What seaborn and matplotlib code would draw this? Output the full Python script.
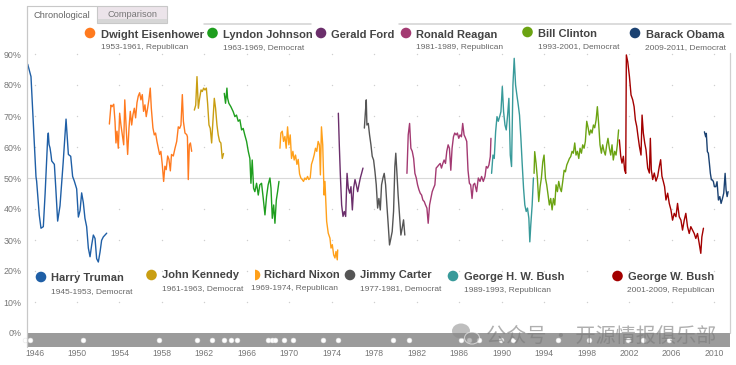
import matplotlib
matplotlib.use("Agg")
import matplotlib.pyplot as plt
from matplotlib.patches import Circle, Rectangle, Ellipse, Wedge
import seaborn as sns
import pandas as pd
import numpy as np

W, H = 736, 365

# approval readings, per president (year, %)
truman_years = [1945.36, 1945.67, 1946.14, 1946.2, 1946.45, 1946.61, 1946.83, 1947.0, 1947.24, 1947.3,
                1947.37, 1947.46, 1947.55, 1947.62, 1947.87, 1948.0, 1948.18, 1948.4, 1948.7, 1948.97,
                1949.19, 1949.41, 1949.59, 1949.75, 1949.97, 1950.13, 1950.29, 1950.44, 1950.6, 1950.75,
                1950.91, 1951.07, 1951.23, 1951.38, 1951.54, 1951.7, 1951.85, 1952.01, 1952.17, 1952.32,
                1952.48, 1952.64, 1952.8]
truman_approval = [86.7, 82.7, 50.4, 49.0, 38.0, 33.8, 34.3, 45.0, 62.9, 64.5,
                   60.8, 59.7, 57.6, 55.5, 54.4, 47.0, 36.1, 41.0, 55.0, 69.0,
                   57.6, 57.0, 50.5, 49.0, 46.5, 37.4, 39.5, 45.2, 42.0, 37.0,
                   34.3, 27.4, 24.6, 28.3, 31.6, 30.5, 24.0, 22.9, 26.1, 29.9,
                   31.0, 31.6, 32.2]

eisenhower_years = [1953.05, 1953.2, 1953.3, 1953.46, 1953.58, 1953.67, 1953.77, 1953.89, 1954.02, 1954.14,
                    1954.27, 1954.4, 1954.5, 1954.65, 1954.77, 1954.9, 1955.02, 1955.15, 1955.27, 1955.4,
                    1955.52, 1955.65, 1955.77, 1955.9, 1956.02, 1956.15, 1956.27, 1956.4, 1956.52, 1956.65,
                    1956.77, 1956.9, 1957.0, 1957.15, 1957.28, 1957.4, 1957.53, 1957.66, 1957.78, 1957.9,
                    1958.03, 1958.16, 1958.28, 1958.4, 1958.54, 1958.66, 1958.79, 1958.9, 1959.07, 1959.23,
                    1959.39, 1959.54, 1959.67, 1959.79, 1959.92, 1960.02, 1960.17, 1960.33, 1960.4, 1960.48,
                    1960.58, 1960.68, 1960.8]
eisenhower_approval = [67.4, 73.5, 73.0, 73.8, 68.3, 61.3, 65.1, 59.6, 70.9, 67.1,
                       63.9, 60.7, 75.2, 65.1, 57.6, 66.2, 71.5, 67.1, 70.4, 72.5,
                       69.4, 74.3, 76.4, 77.5, 75.2, 76.9, 71.5, 73.6, 69.8, 72.5,
                       75.2, 79.0, 72.5, 66.2, 63.9, 64.5, 61.8, 59.6, 57.6, 58.6,
                       54.4, 48.9, 53.8, 52.7, 57.1, 56.0, 52.3, 57.6, 57.1, 59.6,
                       61.8, 66.5, 66.0, 67.1, 76.9, 68.3, 64.5, 64.0, 63.3, 49.5,
                       60.7, 61.3, 58.6]

kennedy_years = [1961.05, 1961.18, 1961.3, 1961.43, 1961.55, 1961.68, 1961.8, 1961.93, 1962.05, 1962.18,
                 1962.3, 1962.43, 1962.55, 1962.68, 1962.8, 1962.93, 1963.05, 1963.18, 1963.3, 1963.43,
                 1963.55, 1963.68, 1963.8]
kennedy_approval = [71.9, 73.5, 82.7, 72.5, 75.7, 78.4, 77.9, 79.0, 78.4, 79.0,
                    74.1, 67.1, 66.0, 61.3, 68.3, 75.7, 72.5, 67.1, 63.9, 61.8,
                    61.3, 56.3, 57.9]

johnson_years = [1963.87, 1963.99, 1964.12, 1964.18, 1964.3, 1964.49, 1964.71, 1964.87, 1965.02, 1965.18,
                 1965.34, 1965.5, 1965.65, 1965.8, 1965.97, 1966.13, 1966.28, 1966.38, 1966.5, 1966.63,
                 1966.75, 1966.91, 1967.07, 1967.22, 1967.38, 1967.54, 1967.7, 1967.85, 1968.0, 1968.17,
                 1968.27, 1968.39, 1968.52, 1968.64, 1968.77, 1968.89, 1969.02]
johnson_approval = [77.3, 74.1, 79.0, 75.8, 74.1, 73.0, 71.4, 69.8, 70.3, 68.3,
                    68.8, 65.5, 66.0, 63.9, 61.8, 58.6, 56.3, 48.3, 55.8, 46.7,
                    45.6, 48.3, 44.5, 47.8, 48.3, 43.4, 38.1, 44.0, 47.8, 50.0,
                    46.7, 37.0, 41.3, 35.4, 42.9, 45.6, 48.9]

nixon_years = [1969.11, 1969.2, 1969.33, 1969.45, 1969.58, 1969.7, 1969.83, 1969.95, 1970.08, 1970.2,
               1970.33, 1970.45, 1970.58, 1970.71, 1970.83, 1970.96, 1971.08, 1971.21, 1971.33, 1971.46,
               1971.58, 1971.71, 1971.83, 1971.96, 1972.08, 1972.21, 1972.33, 1972.46, 1972.58, 1972.71,
               1972.83, 1972.92, 1973.02, 1973.14, 1973.27, 1973.35, 1973.51, 1973.66, 1973.82, 1973.92,
               1974.04, 1974.17, 1974.29, 1974.39, 1974.51, 1974.55]
nixon_approval = [59.6, 64.5, 65.1, 61.8, 63.4, 59.6, 66.5, 60.7, 63.9, 56.3,
                  58.6, 55.8, 57.4, 54.4, 56.0, 51.3, 50.0, 49.5, 48.9, 50.0,
                  49.5, 50.5, 49.5, 50.0, 54.4, 55.8, 57.4, 59.6, 58.6, 61.8,
                  60.7, 51.0, 66.5, 60.7, 44.5, 48.9, 36.0, 32.2, 30.6, 27.4,
                  28.5, 25.2, 24.2, 26.3, 23.6, 26.8]

ford_years = [1974.61, 1974.7, 1974.8, 1974.92, 1975.05, 1975.17, 1975.3, 1975.43, 1975.55, 1975.68,
              1975.8, 1975.93, 1976.05, 1976.18, 1976.3, 1976.43, 1976.55, 1976.68, 1976.8, 1976.93]
ford_approval = [70.9, 60.7, 51.0, 41.3, 37.6, 39.2, 37.6, 51.5, 46.7, 45.1,
                 47.2, 39.7, 46.7, 49.5, 47.8, 45.6, 47.8, 50.0, 51.5, 53.2]

carter_years = [1977.06, 1977.15, 1977.24, 1977.3, 1977.43, 1977.55, 1977.68, 1977.8, 1977.93, 1978.06,
                1978.18, 1978.31, 1978.43, 1978.56, 1978.68, 1978.81, 1978.93, 1979.06, 1979.18, 1979.31,
                1979.43, 1979.56, 1979.68, 1979.81, 1979.93, 1980.02, 1980.12, 1980.24, 1980.37, 1980.5,
                1980.62, 1980.75, 1980.87]
carter_approval = [66.1, 70.9, 75.2, 67.1, 67.6, 63.9, 60.7, 57.0, 55.8, 52.0,
                   47.8, 40.3, 43.4, 39.7, 47.8, 50.0, 51.5, 47.8, 41.3, 34.8,
                   28.4, 30.6, 32.7, 39.2, 53.7, 58.0, 52.0, 44.5, 38.1, 31.6,
                   33.8, 36.5, 31.6]

reagan_years = [1981.07, 1981.19, 1981.32, 1981.44, 1981.57, 1981.7, 1981.82, 1981.95, 1982.07, 1982.2,
                1982.32, 1982.45, 1982.57, 1982.7, 1982.82, 1982.95, 1983.07, 1983.2, 1983.32, 1983.45,
                1983.57, 1983.7, 1983.82, 1983.95, 1984.07, 1984.2, 1984.32, 1984.45, 1984.57, 1984.7,
                1984.82, 1984.95, 1985.07, 1985.2, 1985.32, 1985.45, 1985.57, 1985.7, 1985.82, 1985.95,
                1986.07, 1986.2, 1986.32, 1986.45, 1986.57, 1986.7, 1986.82, 1986.95, 1987.07, 1987.2,
                1987.32, 1987.45, 1987.63, 1987.79, 1987.95, 1988.1, 1988.26, 1988.42, 1988.54, 1988.67,
                1988.79, 1988.92, 1988.98]
reagan_approval = [51.5, 63.9, 67.6, 59.6, 58.6, 56.3, 51.5, 50.0, 47.8, 46.2,
                   45.1, 44.5, 42.9, 42.4, 41.3, 40.3, 35.4, 41.3, 43.4, 45.6,
                   46.7, 47.8, 53.2, 53.7, 54.2, 54.7, 53.2, 54.7, 55.8, 54.7,
                   58.6, 60.7, 59.6, 52.5, 59.6, 63.3, 64.5, 63.9, 64.5, 62.8,
                   63.9, 63.3, 67.6, 63.9, 63.0, 61.8, 52.5, 48.3, 47.8, 43.4,
                   47.8, 48.3, 45.6, 50.0, 48.9, 50.5, 48.9, 50.5, 53.7, 53.2,
                   54.2, 56.9, 62.8]

bush_sr_years = [1989.04, 1989.17, 1989.29, 1989.42, 1989.55, 1989.67, 1989.8, 1989.92, 1990.05, 1990.17,
                 1990.3, 1990.42, 1990.55, 1990.67, 1990.8, 1990.92, 1991.05, 1991.17, 1991.3, 1991.42,
                 1991.55, 1991.67, 1991.8, 1991.92, 1992.05, 1992.17, 1992.3, 1992.42, 1992.55, 1992.64,
                 1992.73, 1992.86, 1992.98]
bush_sr_approval = [51.5, 57.4, 56.3, 64.9, 69.8, 68.3, 69.8, 71.4, 79.5, 71.4,
                    67.1, 65.5, 70.3, 75.7, 57.4, 53.7, 80.0, 88.6, 80.0, 76.8,
                    73.6, 70.3, 62.8, 54.7, 46.7, 41.3, 39.2, 40.3, 37.0, 29.4,
                    34.8, 41.3, 50.0]

clinton_years = [1993.04, 1993.1, 1993.23, 1993.35, 1993.48, 1993.61, 1993.73, 1993.86, 1993.98, 1994.11,
                 1994.23, 1994.36, 1994.48, 1994.61, 1994.74, 1994.86, 1994.99, 1995.11, 1995.24, 1995.36,
                 1995.49, 1995.61, 1995.74, 1995.87, 1995.99, 1996.12, 1996.24, 1996.37, 1996.49, 1996.62,
                 1996.74, 1996.87, 1996.99, 1997.12, 1997.25, 1997.37, 1997.5, 1997.62, 1997.75, 1997.87,
                 1998.0, 1998.13, 1998.25, 1998.38, 1998.5, 1998.63, 1998.75, 1998.88, 1999.0, 1999.13,
                 1999.25, 1999.38, 1999.5, 1999.63, 1999.75, 1999.88, 2000.0, 2000.13, 2000.26, 2000.38,
                 2000.5, 2000.63, 2000.76, 2000.88, 2001.0]
clinton_approval = [51.5, 58.5, 54.7, 50.0, 42.4, 47.2, 50.0, 55.2, 57.4, 50.0,
                    47.8, 44.5, 41.3, 43.4, 39.7, 43.4, 41.3, 47.8, 45.6, 48.9,
                    46.7, 45.6, 48.9, 52.5, 52.0, 54.2, 55.2, 56.3, 56.9, 58.6,
                    58.0, 61.3, 57.4, 58.6, 56.3, 59.6, 58.0, 60.7, 59.6, 61.8,
                    68.3, 66.2, 63.9, 65.5, 64.5, 67.1, 66.2, 68.7, 73.0, 67.1,
                    60.7, 58.0, 60.7, 58.6, 57.4, 60.7, 62.8, 59.6, 57.4, 60.7,
                    55.8, 58.6, 57.4, 60.7, 65.5]

bush_jr_years = [2001.07, 2001.2, 2001.32, 2001.45, 2001.57, 2001.67, 2001.73, 2001.86, 2002.02, 2002.17,
                 2002.33, 2002.46, 2002.58, 2002.71, 2002.83, 2002.96, 2003.11, 2003.21, 2003.33, 2003.46,
                 2003.58, 2003.74, 2003.9, 2003.99, 2004.08, 2004.21, 2004.36, 2004.52, 2004.68, 2004.83,
                 2004.96, 2005.08, 2005.21, 2005.33, 2005.46, 2005.62, 2005.77, 2005.93, 2006.08, 2006.24,
                 2006.4, 2006.55, 2006.71, 2006.87, 2007.02, 2007.18, 2007.33, 2007.49, 2007.65, 2007.8,
                 2007.96, 2008.12, 2008.27, 2008.43, 2008.59, 2008.74, 2008.84, 2008.99]
bush_jr_approval = [62.3, 57.0, 54.8, 57.0, 52.5, 51.5, 89.7, 87.5, 82.7, 76.8,
                    75.2, 73.0, 68.7, 66.6, 63.4, 60.2, 57.4, 70.3, 64.5, 61.3,
                    59.1, 53.2, 51.6, 62.8, 52.7, 49.5, 51.6, 49.0, 50.6, 53.7,
                    55.9, 50.6, 48.9, 47.2, 42.9, 45.1, 41.8, 39.7, 36.4, 38.6,
                    37.5, 41.8, 37.5, 36.4, 33.2, 36.4, 38.6, 34.3, 32.1, 34.3,
                    33.2, 32.1, 30.5, 32.1, 28.9, 25.7, 31.0, 33.8]

obama_years = [2009.08, 2009.2, 2009.26, 2009.36, 2009.45, 2009.55, 2009.64, 2009.74, 2009.83, 2009.93,
               2010.02, 2010.15, 2010.27, 2010.4, 2010.53, 2010.65, 2010.78, 2010.9, 2011.03, 2011.12,
               2011.22, 2011.31]
obama_approval = [64.9, 63.3, 64.4, 58.5, 58.0, 54.7, 51.5, 49.4, 49.4, 48.8,
                  47.2, 47.2, 48.8, 42.9, 44.0, 41.8, 43.4, 45.1, 51.5, 46.2,
                  44.0, 45.6]

presidents = ["Harry Truman", "Dwight Eisenhower", "John Kennedy", "Lyndon Johnson", "Richard Nixon",
              "Gerald Ford", "Jimmy Carter", "Ronald Reagan", "George H. W. Bush", "Bill Clinton",
              "George W. Bush", "Barack Obama"]
terms = ["1945-1953, Democrat", "1953-1961, Republican", "1961-1963, Democrat", "1963-1969, Democrat",
         "1969-1974, Republican", "", "1977-1981, Democrat", "1981-1989, Republican",
         "1989-1993, Republican", "1993-2001, Democrat", "2001-2009, Republican", "2009-2011, Democrat"]
series_years = [truman_years, eisenhower_years, kennedy_years, johnson_years, nixon_years, ford_years,
                carter_years, reagan_years, bush_sr_years, clinton_years, bush_jr_years, obama_years]
series_approval = [truman_approval, eisenhower_approval, kennedy_approval, johnson_approval,
                   nixon_approval, ford_approval, carter_approval, reagan_approval, bush_sr_approval,
                   clinton_approval, bush_jr_approval, obama_approval]

# event markers on the grey band
event_years = [1945.1, 1945.6, 1950.6, 1957.7, 1961.3, 1962.7, 1963.8, 1964.5, 1965.1, 1968.0,
               1968.4, 1968.6, 1969.5, 1970.3, 1973.2, 1974.6, 1979.8, 1981.3, 1986.2, 1986.9,
               1987.9, 1989.9, 1991.1, 1995.3, 1998.2, 2001.9, 2003.3, 2005.7]

x_ticks = list(range(1946, 2011, 4))
y_ticks = list(range(0, 100, 10))

colors = ["#1f5fa6", "#ff7a1f", "#c99e12", "#1e9e1e", "#ffa01a", "#6b2e6b",
          "#555555", "#a33a72", "#389a9a", "#6ba312", "#a30000", "#1b4272"]
palette = dict(zip(presidents, colors))

# label layout in pixels: circle x, circle y, text x, name baseline, term x, term baseline
label_pos = {
    "Dwight Eisenhower": (90, 33, 101, 37.5, 101, 49),
    "Lyndon Johnson": (212.5, 33, 223, 37.5, 223, 49),
    "Gerald Ford": (321, 33, 331, 37.5, 331, 49),
    "Ronald Reagan": (406, 33, 416, 37.5, 416, 49.3),
    "Bill Clinton": (527.5, 32, 538, 36.7, 537.5, 48),
    "Barack Obama": (635, 33, 645.5, 37.5, 645, 49),
    "Harry Truman": (41, 277, 51, 281, 51, 293.3),
    "John Kennedy": (151.5, 275, 162, 278.5, 161.5, 290),
    "Richard Nixon": (256, 275, 264.5, 278.5, 251, 290),
    "Jimmy Carter": (350, 275, 359.5, 278.5, 360, 290),
    "George H. W. Bush": (453, 276, 463.5, 280, 463.5, 292.3),
    "George W. Bush": (617.5, 276, 628, 280, 627, 292.3),
}

px_per_year = 10.62
px_per_pct = 3.1


def year_at(px):
    return 1946 + (px - 34.5) / px_per_year


def pct_at(py):
    return (333 - py) / px_per_pct


df = pd.concat([pd.DataFrame({"year": yrs, "approval": vals, "president": name})
                for name, yrs, vals in zip(presidents, series_years, series_approval)],
               ignore_index=True)

sns.set_theme(style="white")
plt.rcParams["font.family"] = ["Liberation Sans", "DejaVu Sans"]

fig = plt.figure(figsize=(W / 100, H / 100), dpi=100)
fig.patch.set_facecolor("white")

ax = fig.add_axes([27 / W, 1 - 347 / H, (730 - 27) / W, (347 - 6) / H])
ax.set_xlim(year_at(27), year_at(730))
ax.set_ylim(pct_at(347), pct_at(6))
ax.set_facecolor("none")
for s in ax.spines.values():
    s.set_visible(False)

# dotted grid at tick crossings and 50% line
gx, gy = np.meshgrid(x_ticks, [v for v in y_ticks if v not in (0, 50)])
ax.scatter(gx.ravel(), gy.ravel(), s=1.0, color="#cfcfcf", linewidths=0, zorder=1)
ax.axhline(50, color="#d9d9d9", lw=0.8, zorder=1)

sns.lineplot(data=df, x="year", y="approval", hue="president", palette=palette,
             estimator=None, sort=False, legend=False, linewidth=1.0, ax=ax, zorder=3)

ax.axhspan(pct_at(347), 0, color="#9b9b9b", lw=0, zorder=4)
ax.scatter(event_years, [pct_at(340)] * len(event_years), s=12, color="white",
           edgecolors="#e6e6e6", linewidths=0.4, zorder=5, clip_on=False)

ax.set_xticks(x_ticks)
ax.set_xticklabels([str(y) for y in x_ticks])
ax.set_yticks(y_ticks)
ax.set_yticklabels([f"{v}%" for v in y_ticks])
ax.tick_params(axis="x", length=0, pad=1.8, labelsize=6.2, labelcolor="#777777")
ax.tick_params(axis="y", length=0, pad=4.0, labelsize=6.4, labelcolor="#777777")
ax.set_xlabel("")
ax.set_ylabel("")

# overlay in pixel coordinates for frame, tabs and labels
ov = fig.add_axes([0, 0, 1, 1], zorder=10)
ov.set_xlim(0, W)
ov.set_ylim(H, 0)
ov.axis("off")
ov.patch.set_alpha(0)

ov.plot([27, 27], [6, 347], color="#c8c8c8", lw=0.9)
ov.plot([730, 730], [53, 333], color="#d0d0d0", lw=0.9)
ov.plot([204, 311], [23.5, 23.5], color="#d2d2d2", lw=1.1)
ov.plot([399, 731], [24, 24], color="#d2d2d2", lw=1.1)

ov.add_patch(Rectangle((97, 6), 70, 17, facecolor="#ece4ea", edgecolor="#c8c8c8", lw=0.8))
ov.add_patch(Rectangle((97.5, 18.5), 69, 4.5, facecolor="#d6d6d6", lw=0))
ov.plot([27, 97], [6, 6], color="#c8c8c8", lw=0.8)
ov.text(62, 15, "Chronological", ha="center", va="center", fontsize=6.7, color="#666666")
ov.text(132, 14.5, "Comparison", ha="center", va="center", fontsize=6.7, color="#777777")

for name, term in zip(presidents, terms):
    cx, cy, tx, ty, sx, sy = label_pos[name]
    if name == "Richard Nixon":
        ov.add_patch(Wedge((cx - 1, cy), 5.3, -90, 90, color=palette[name], lw=0))
    else:
        ov.add_patch(Circle((cx, cy), 5.3, color=palette[name], lw=0))
    ov.text(tx, ty, name, fontsize=8, fontweight="bold", color="#444444", va="baseline")
    if term:
        ov.text(sx, sy, term, fontsize=6, color="#666666", va="baseline")

# watermark
ov.add_patch(Ellipse((461, 331), 18, 15, color="#8a8a8a", alpha=0.55, lw=0))
ov.add_patch(Ellipse((472, 338), 15, 12, facecolor="#8a8a8a", edgecolor="white",
                     alpha=0.55, lw=0.8))
ov.text(486, 336, "公众号 · 开源情报俱乐部", fontsize=14.5, color="#7a7a7a", alpha=0.6,
        va="center", ha="left", family=["Noto Sans CJK SC", "DejaVu Sans"])

fig.savefig("out.png", dpi=100, facecolor="white")
plt.close(fig)
